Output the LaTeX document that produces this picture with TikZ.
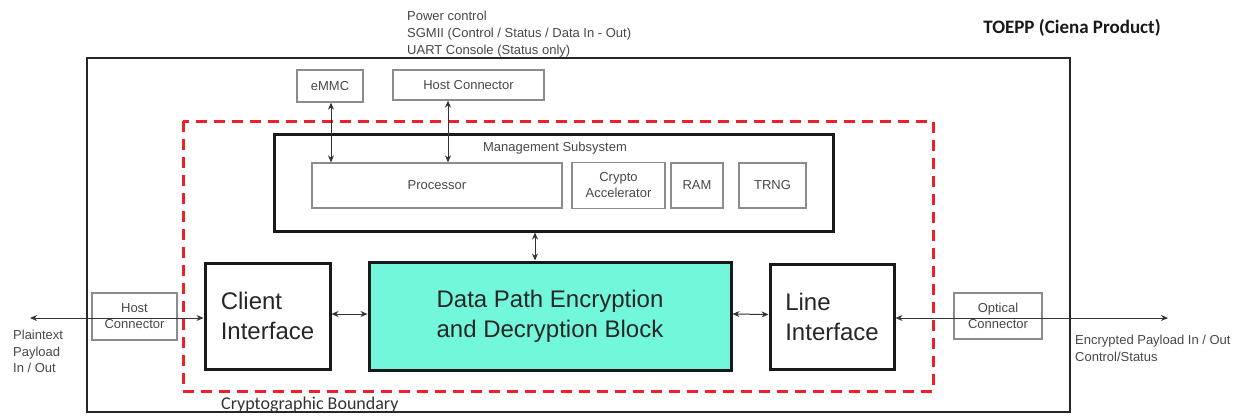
\documentclass[tikz,border=0pt]{standalone}
\usepackage{fontspec}
\setmainfont{Liberation Sans}
\newfontfamily\calibri{Carlito}
\usetikzlibrary{arrows.meta}
\definecolor{cipher}{RGB}{115,247,218}
\definecolor{boundary}{RGB}{238,32,42}
\begin{document}
\begin{tikzpicture}
[x=1pt, y=-1pt, >={Stealth[length=7pt,width=6pt]},
 nodes={inner sep=0pt, text=black!72},
 note/.style={font=\fontsize{13}{16.5}\selectfont, align=left},
 part/.style={draw=black!45, line width=1.3pt, font=\fontsize{13}{16}\selectfont, align=center},
 block/.style={draw=black!90, line width=3pt, font=\fontsize{24}{30}\selectfont, text=black!85},
 link/.style={<->, line width=1pt, black!80}]
\useasboundingbox (0,0) rectangle (1248,416);

% product frame and boundary
\node (toepp) at (578.5,235) [draw=black!85, line width=2.5pt, minimum width=983pt, minimum height=354pt] {};
\draw[boundary, line width=3pt, dash pattern=on 11pt off 7pt] (183,121) rectangle (933,391);
\node (title) at (1072,33) [anchor=base, font=\calibri\bfseries\fontsize{19}{22}\selectfont, text=black!90] {TOEPP (Ciena Product)};
\node (bound) at (221,409) [anchor=base west, font=\calibri\fontsize{18}{21}\selectfont, text=black!80] {Cryptographic Boundary};

% management subsystem
\node (mgmt) at (553.5,182.5) [draw=black!90, line width=3pt, minimum width=559pt, minimum height=97pt] {};
\node (mgmttitle) at (555,148) [note] {Management Subsystem};
\node (proc) at (437,185.5) [part, minimum width=250pt, minimum height=45pt] {Processor};
\node (accel) at (618.5,185.5) [part, minimum width=93pt, minimum height=46pt] {Crypto\\Accelerator};
\node (ram) at (697,185.5) [part, minimum width=52pt, minimum height=45pt] {RAM};
\node (trng) at (772.5,185.5) [part, minimum width=67pt, minimum height=45pt] {TRNG};

% connectors on top
\node (emmc) at (330,86) [part, minimum width=66pt, minimum height=32pt] {eMMC};
\node (host) at (468.5,85) [part, minimum width=151pt, minimum height=30pt] {Host Connector};
\node (hostsig) at (407,54.5) [note, anchor=base west, font=\fontsize{13}{17}\selectfont] {Power control\\SGMII (Control / Status / Data In - Out)\\UART Console (Status only)};
\draw[link] ([xshift=1pt]emmc.south) -- ([xshift=1pt]emmc.south |- proc.north);
\draw[link] ([xshift=-20.5pt]host.south) -- ([xshift=-20.5pt]host.south |- proc.north);

% data path
\node (client) at (267.5,316) [block, align=left, minimum width=125pt, minimum height=106pt] {Client\\Interface};
\node (data) at (550,316) [block, fill=cipher, align=center, minimum width=362pt, minimum height=108pt] {Data Path Encryption\\and Decryption Block};
\node (line) at (832,316.5) [block, align=left, minimum width=124pt, minimum height=105pt] {Line\\Interface};
\draw[link] ([xshift=-15pt]data.north) -- ([xshift=-15pt]data.north |- mgmt.south);
\draw[link] ([yshift=2pt]client.east) -- ([yshift=2pt]data.west);
\draw[link] ([yshift=2pt]data.east) -- ([yshift=2pt]line.east -| line.west);

% external ports
\node (hostport) at (134.5,316.5) [part, minimum width=85pt, minimum height=47pt] {Host\\Connector};
\node (optical) at (998,316) [part, minimum width=88pt, minimum height=46pt] {Optical\\Connector};
\coordinate (plain) at (30,318);
\coordinate (crypt) at (1168,318);
\draw[link] (plain) -- (plain -| client.west);
\draw[link] (crypt -| line.east) -- (crypt);
\node (plainnote) at (13,372.5) [note, anchor=base west] {Plaintext\\Payload\\In / Out};
\node (cryptnote) at (1075,361.5) [note, anchor=base west, font=\fontsize{13}{17}\selectfont] {Encrypted Payload In / Out\\Control/Status};
\end{tikzpicture}
\end{document}
